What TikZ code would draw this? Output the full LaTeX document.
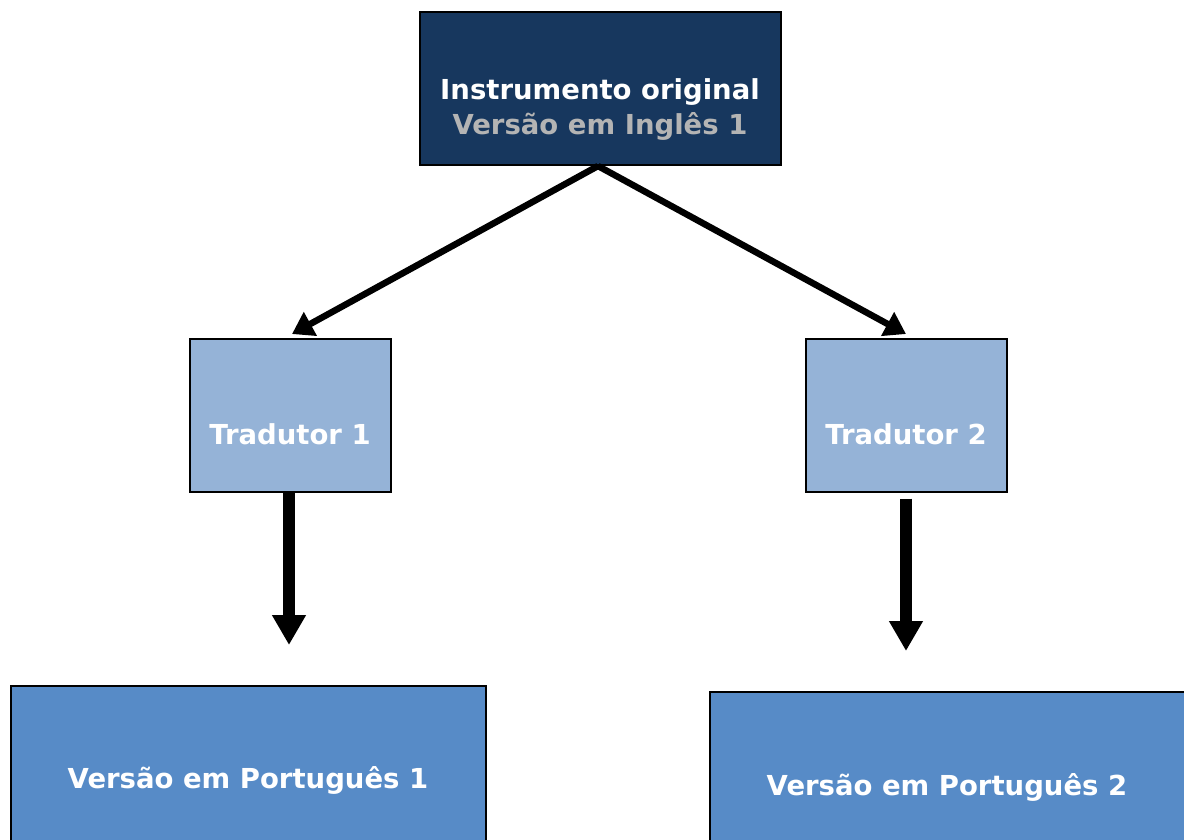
\documentclass[tikz,border=0pt]{standalone}
\usepackage{fontspec}
\setmainfont{DejaVu Sans}
\usetikzlibrary{arrows.meta}
\definecolor{navy}{HTML}{17375E}
\definecolor{lightblue}{HTML}{95B3D7}
\definecolor{midblue}{HTML}{578BC7}
\definecolor{subgray}{HTML}{B4B4B4}
\tikzset{
  box/.style={draw=black, line width=1.3pt, inner sep=0pt},
  lbl/.style={text=white, inner sep=0pt, align=center, font=\bfseries\fontsize{27.5}{35}\selectfont},
  diagarrow/.style={line width=6.5pt, -{Triangle[width=26pt,length=21pt]}},
  downarrow/.style={line width=12pt, -{Triangle[width=32pt,length=30pt]}}
}
\begin{document}
\begin{tikzpicture}[x=1pt,y=-1pt]
\useasboundingbox (0,0) rectangle (1184,839);
\clip (0,0) rectangle (1184,839);
\node[box, fill=navy, minimum width=361pt, minimum height=153pt] (top) at (600.5,88.5) {};
\node[box, fill=lightblue, minimum width=201pt, minimum height=153pt] (t1) at (290.5,415.5) {};
\node[box, fill=lightblue, minimum width=201pt, minimum height=153pt] (t2) at (906.5,415.5) {};
\node[box, fill=midblue, minimum width=475pt, minimum height=190pt] (p1) at (248.5,781) {};
\node[box, fill=midblue, minimum width=480pt, minimum height=190pt] (p2) at (950,787) {};
\node[lbl] (topt) at (600,109.5) {Instrumento original\\\textcolor{subgray}{Versão em Inglês 1}};
\node[lbl] (t1t) at (290,434) {Tradutor 1};
\node[lbl] (t2t) at (906,434) {Tradutor 2};
\node[lbl] (p1t) at (248,780) {Versão em Português 1};
\node[lbl] (p2t) at (947,787) {Versão em Português 2};
\coordinate (topc) at (598,166);
\coordinate (a1end) at (292,334);
\coordinate (a2end) at (906,334);
\draw[diagarrow] (topc) -- (a1end);
\draw[diagarrow] (topc) -- (a2end);
\coordinate (d1end) at (289,645);
\coordinate (d2end) at (906,651);
\draw[downarrow] (t1.south -| d1end) -- (d1end);
\draw[downarrow] ([yshift=-6pt]t2.south -| d2end) -- (d2end);
\end{tikzpicture}
\end{document}
